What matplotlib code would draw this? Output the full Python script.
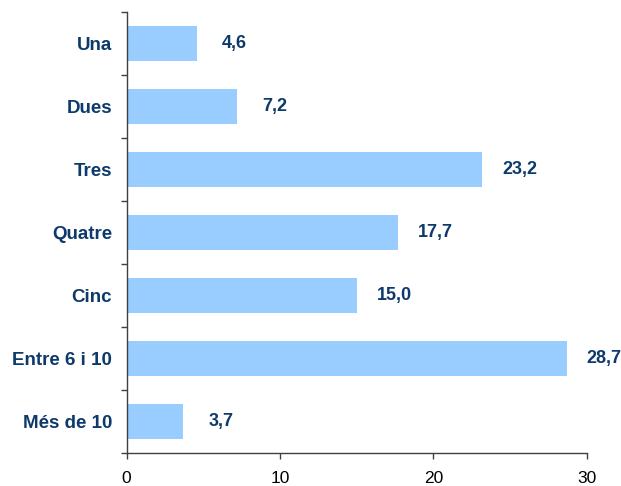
import numpy as np
import matplotlib.pyplot as plt

categories = ['Una', 'Dues', 'Tres', 'Quatre', 'Cinc', 'Entre 6 i 10', 'Més de 10']
values = [4.6, 7.2, 23.2, 17.7, 15.0, 28.7, 3.7]
xticks = [0, 10, 20, 30]

bar_color = '#99CCFF'
text_color = '#0d3a6b'

plt.rcParams['font.family'] = ['Liberation Sans', 'DejaVu Sans']

fig = plt.figure(figsize=(6.21, 4.86), dpi=100)
ax = fig.add_axes([0.204, 0.0685, 0.7407, 0.9068])

y = np.arange(len(categories))
ax.barh(y, values, height=0.555, color=bar_color, edgecolor='none')

for yi, v in zip(y, values):
    ax.annotate(f'{v:.1f}'.replace('.', ','), (v, yi), xytext=(27, 0),
                textcoords='offset points', ha='center', va='center',
                fontsize=13, fontweight='bold', color=text_color)

ax.set_xlim(0, 30)
ax.set_ylim(len(categories) - 0.5, -0.5)
ax.set_xticks(xticks)
ax.set_xticklabels([str(t) for t in xticks], fontsize=12.5)
ax.tick_params(axis='x', length=4, width=1, pad=9, color='#404040')

# boundary ticks on the category axis, labels centred on the bars
ax.set_yticks(np.arange(-0.5, len(categories), 1.0))
ax.set_yticklabels([])
ax.tick_params(axis='y', which='major', length=4.5, width=1, color='#404040')
ax.set_yticks(y, minor=True)
ax.set_yticklabels(categories, minor=True, fontsize=13.5, fontweight='bold', color=text_color)
ax.tick_params(axis='y', which='minor', length=0, pad=10.5)

for s in ['top', 'right']:
    ax.spines[s].set_visible(False)
for s in ['left', 'bottom']:
    ax.spines[s].set_color('#404040')
    ax.spines[s].set_linewidth(1)

fig.savefig('out.png', dpi=100)
